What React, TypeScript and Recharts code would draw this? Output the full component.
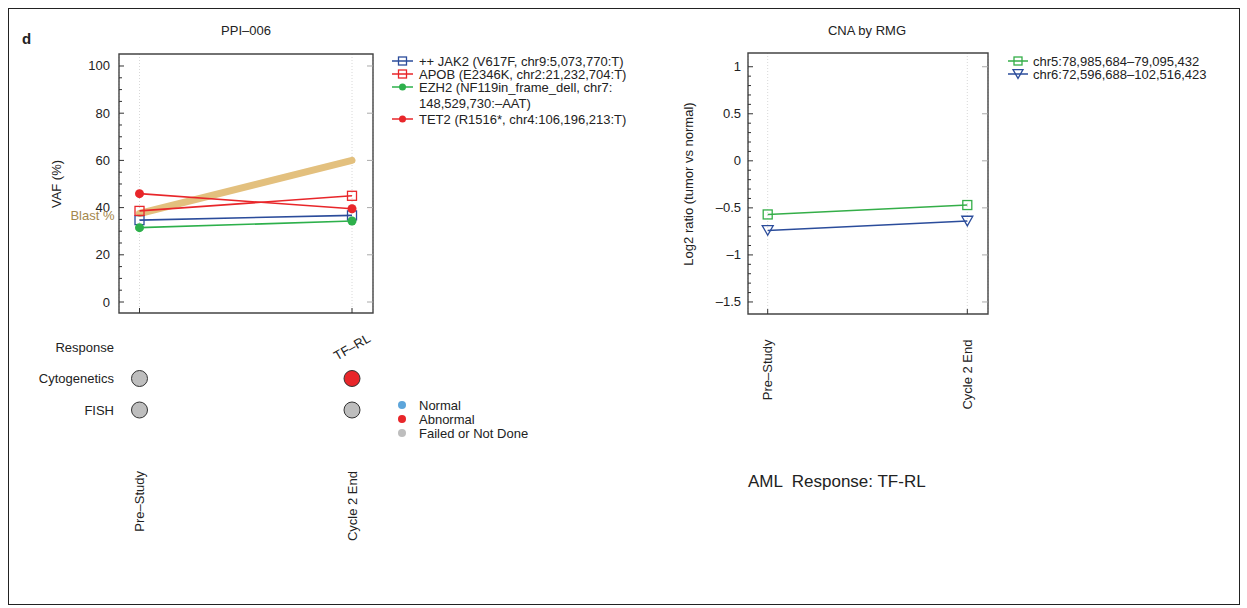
import React from 'react';
import {
  LineChart, Line, XAxis, YAxis, CartesianGrid, ReferenceArea, LabelList,
  ScatterChart, Scatter,
} from 'recharts';

const FONT = '"Liberation Sans", Arial, Helvetica, sans-serif';
const W = 1247;
const H = 608;
const INK = '#222';

// ---------------- data ----------------
const timepoints = ['Pre–Study', 'Cycle 2 End'];
const timeIndex = [0, 1];

const blastPct = [37.5, 60];
const jak2Vaf = [34.7, 36.7];
const apobVaf = [38.6, 45.0];
const ezh2Vaf = [31.5, 34.3];
const tet2Vaf = [45.9, 39.5];

const chr5Log2 = [-0.57, -0.47];
const chr6Log2 = [-0.74, -0.64];

const vafTicks = [0, 5, 10, 15, 20, 25, 30, 35, 40, 45, 50, 55, 60, 65, 70, 75, 80, 85, 90, 95, 100];
const vafMajorTicks = [0, 20, 40, 60, 80, 100];
const log2Ticks = [-1.5, -1.4, -1.3, -1.2, -1.1, -1, -0.9, -0.8, -0.7, -0.6, -0.5, -0.4, -0.3, -0.2, -0.1, 0,
  0.1, 0.2, 0.3, 0.4, 0.5, 0.6, 0.7, 0.8, 0.9, 1];
const log2MajorTicks = [-1.5, -1, -0.5, 0, 0.5, 1];

const annotationRows = ['FISH', 'Cytogenetics', 'Response'];
const annotationRowIndex = [0, 1, 2];
const cytogenetics = ['failed', 'abnormal'];
const fish = ['failed', 'failed'];
const response = ['', 'TF–RL'];

const statusKeys = ['normal', 'abnormal', 'failed'];
const statusNames = ['Normal', 'Abnormal', 'Failed or Not Done'];
const statusColors = ['#5DA5DA', '#E8262A', '#BEBEBE'];

const vafSeries = [
  { key: 'jak2', label: '++ JAK2 (V617F, chr9:5,073,770:T)', color: '#2B4C9B', marker: 'openSquare' },
  { key: 'apob', label: 'APOB (E2346K, chr2:21,232,704:T)', color: '#E8262A', marker: 'openSquare' },
  { key: 'ezh2', label: 'EZH2 (NF119in_frame_dell, chr7:\n148,529,730:–AAT)', color: '#2DB04B', marker: 'dot' },
  { key: 'tet2', label: 'TET2 (R1516*, chr4:106,196,213:T)', color: '#E8262A', marker: 'dot' },
];
const blastSeries = { key: 'blast', label: 'Blast %', color: '#E3C07E', textColor: '#A4874C' };

const cnaSeries = [
  { key: 'chr5', label: 'chr5:78,985,684–79,095,432', color: '#34AE48', marker: 'openSquare' },
  { key: 'chr6', label: 'chr6:72,596,688–102,516,423', color: '#2B4C9B', marker: 'openTriDown' },
];

// ---------------- layout ----------------
const VAF = { left: 119, right: 373, top: 54, bottom: 313 };
const ANN = { top: 315.5, bottom: 441.5 };
const CNA = { left: 748, right: 988, top: 53, bottom: 314 };
const AX = 1; // axis band size (must be > 0 for recharts to draw ticks)

const vafXDomain: [number, number] = [-0.0965, 1.0988];
const vafYDomain: [number, number] = [-4.66, 105.08];
const cnaXDomain: [number, number] = [-0.0987, 1.1037];
const cnaYDomain: [number, number] = [-1.628, 1.146];
const annYDomain: [number, number] = [-1, 3];

const fmtNum = (v: number) => {
  const s = String(Math.round(v * 100) / 100);
  return s.startsWith('-') ? '–' + s.slice(1) : s;
};

function Marker({ type, cx, cy, color, size }: any) {
  if (cx == null || cy == null) return null;
  if (type === 'openSquare') {
    return <rect x={cx - size / 2} y={cy - size / 2} width={size} height={size} fill="none" stroke={color} strokeWidth={1.3} />;
  }
  if (type === 'openTriDown') {
    const h = size * 0.87;
    return (
      <polygon
        points={`${cx - size / 2},${cy - h / 2} ${cx + size / 2},${cy - h / 2} ${cx},${cy + h / 2}`}
        fill="none" stroke={color} strokeWidth={1.3}
      />
    );
  }
  return <circle cx={cx} cy={cy} r={size / 2} fill={color} />;
}

const isMajor = (majors: number[], v: number) => majors.some((m) => Math.abs(m - v) < 1e-9);

const makeYTick = (majors: number[], plotRight: number, gap: number) => (props: any) => {
  const { x, y, payload } = props;
  const v = payload.value;
  const major = isMajor(majors, v);
  return (
    <g>
      <line x1={x} x2={x + (major ? 5 : 3)} y1={y} y2={y} stroke="#333" strokeWidth={1} />
      {major && <line x1={plotRight} x2={plotRight - 6} y1={y} y2={y} stroke="#aaa" strokeWidth={1} />}
      {major && (
        <text x={x - gap} y={y} textAnchor="end" dominantBaseline="central" fontSize={13} fontFamily={FONT} fill={INK}>
          {fmtNum(v)}
        </text>
      )}
    </g>
  );
};

const makeXTick = (labelOffset: number | null) => (props: any) => {
  const { x, y, payload } = props;
  const label = timepoints[payload.value];
  return (
    <g>
      <line x1={x} x2={x} y1={y} y2={y - 5} stroke="#333" strokeWidth={1} />
      {labelOffset != null && (
        <text
          x={x} y={y + labelOffset} dy="0.36em" textAnchor="end"
          transform={`rotate(-90, ${x}, ${y + labelOffset})`}
          fontSize={13} fontFamily={FONT} fill={INK}
        >
          {label}
        </text>
      )}
    </g>
  );
};

const annXTick = (props: any) => {
  const { x, y, payload } = props;
  const ly = y + 29.5;
  return (
    <text x={x} y={ly} dy="0.36em" textAnchor="end" transform={`rotate(-90, ${x}, ${ly})`}
      fontSize={13} fontFamily={FONT} fill={INK}>
      {timepoints[payload.value]}
    </text>
  );
};

const annYTick = (props: any) => {
  const { x, y, payload } = props;
  return (
    <text x={x - 5} y={y} textAnchor="end" dominantBaseline="central" fontSize={13} fontFamily={FONT} fill={INK}>
      {annotationRows[payload.value]}
    </text>
  );
};

const statusColor = (s: string) => statusColors[statusKeys.indexOf(s)];

const abs: React.CSSProperties = { position: 'absolute', left: 0, top: 0 };

const marginFor = (box: { left: number; right: number; top: number; bottom: number }) => ({
  top: box.top,
  left: box.left - AX,
  right: W - box.right,
  bottom: H - box.bottom - AX,
});

export default function App() {
  const vafRows = timeIndex.map((t, i) => ({
    t, blast: blastPct[i], jak2: jak2Vaf[i], apob: apobVaf[i], ezh2: ezh2Vaf[i], tet2: tet2Vaf[i],
  }));
  const cnaRows = timeIndex.map((t, i) => ({ t, chr5: chr5Log2[i], chr6: chr6Log2[i] }));
  const cytoPts = timeIndex.map((t, i) => ({ t, row: 1, status: cytogenetics[i] }));
  const fishPts = timeIndex.map((t, i) => ({ t, row: 0, status: fish[i] }));
  const respPts = timeIndex.map((t, i) => ({ t, row: 2, label: response[i] })).filter((d) => d.label);

  const vafLegendY: number[] = [];
  {
    let y = 61;
    vafSeries.forEach((s) => {
      vafLegendY.push(y);
      y += s.label.includes('\n') ? 32 : 13;
    });
  }

  const circleShape = (p: any) => (
    <circle cx={p.cx} cy={p.cy} r={8} fill={statusColor(p.payload.status)} stroke="#333" strokeWidth={1} />
  );
  const respShape = (p: any) => (
    <text x={p.cx} y={p.cy} textAnchor="middle" dominantBaseline="central"
      transform={`rotate(-30, ${p.cx}, ${p.cy})`} fontSize={13} fontFamily={FONT} fill={INK}>
      {p.payload.label}
    </text>
  );

  return (
    <div style={{ position: 'absolute', left: 0, top: 0, width: W, height: H, fontFamily: FONT, background: '#fff' }}>
      <div style={{ position: 'absolute', left: 8, top: 8, width: 1232, height: 597, border: '1px solid #222', boxSizing: 'border-box' }} />

      {/* VAF chart */}
      <div style={abs}>
        <LineChart width={W} height={H} data={vafRows} margin={marginFor(VAF)}>
          <CartesianGrid horizontal={false} vertical stroke="#d8d8d8" strokeDasharray="1 2" />
          <XAxis dataKey="t" type="number" domain={vafXDomain} allowDataOverflow ticks={timeIndex}
            height={AX} tickSize={0} tickMargin={0} axisLine={false} tickLine={false} interval={0}
            tick={makeXTick(null)} />
          <YAxis type="number" domain={vafYDomain} allowDataOverflow ticks={vafTicks}
            width={AX} tickSize={0} tickMargin={0} axisLine={false} tickLine={false} interval={0}
            tick={makeYTick(vafMajorTicks, VAF.right, 9)} />
          <ReferenceArea x1={vafXDomain[0]} x2={vafXDomain[1]} y1={vafYDomain[0]} y2={vafYDomain[1]}
            fill="none" stroke="#444" strokeWidth={1.4} ifOverflow="visible" />
          <Line dataKey={blastSeries.key} stroke={blastSeries.color} strokeWidth={7} strokeLinecap="round"
            dot={false} isAnimationActive={false}>
            <LabelList dataKey={blastSeries.key} content={(p: any) =>
              p.index === 0 ? (
                <text x={p.x - 25} y={p.y + 2} textAnchor="end" dominantBaseline="central" fontSize={13}
                  fontFamily={FONT} fill={blastSeries.textColor}>{blastSeries.label}</text>
              ) : null} />
          </Line>
          {vafSeries.map((s) => (
            <Line key={s.key} dataKey={s.key} stroke={s.color} strokeWidth={1.6} isAnimationActive={false}
              dot={(p: any) => <Marker key={`${s.key}-${p.index}`} type={s.marker} cx={p.cx} cy={p.cy} color={s.color}
                size={9} />} />
          ))}
        </LineChart>
      </div>

      {/* annotation tracks */}
      <div style={abs}>
        <ScatterChart width={W} height={H}
          margin={marginFor({ left: VAF.left, right: VAF.right, top: ANN.top, bottom: ANN.bottom })}>
          <XAxis dataKey="t" type="number" domain={vafXDomain} allowDataOverflow ticks={timeIndex}
            height={AX} tickSize={0} tickMargin={0} axisLine={false} tickLine={false} interval={0}
            tick={annXTick} />
          <YAxis dataKey="row" type="number" domain={annYDomain} allowDataOverflow ticks={annotationRowIndex}
            width={AX} tickSize={0} tickMargin={0} axisLine={false} tickLine={false} interval={0}
            tick={annYTick} />
          <Scatter data={cytoPts} shape={circleShape} isAnimationActive={false} />
          <Scatter data={fishPts} shape={circleShape} isAnimationActive={false} />
          <Scatter data={respPts} shape={respShape} isAnimationActive={false} />
        </ScatterChart>
      </div>

      {/* CNA chart */}
      <div style={abs}>
        <LineChart width={W} height={H} data={cnaRows} margin={marginFor(CNA)}>
          <CartesianGrid horizontal={false} vertical stroke="#d8d8d8" strokeDasharray="1 2" />
          <XAxis dataKey="t" type="number" domain={cnaXDomain} allowDataOverflow ticks={timeIndex}
            height={AX} tickSize={0} tickMargin={0} axisLine={false} tickLine={false} interval={0}
            tick={makeXTick(25.5)} />
          <YAxis type="number" domain={cnaYDomain} allowDataOverflow ticks={log2Ticks}
            width={AX} tickSize={0} tickMargin={0} axisLine={false} tickLine={false} interval={0}
            tick={makeYTick(log2MajorTicks, CNA.right, 7)} />
          <ReferenceArea x1={cnaXDomain[0]} x2={cnaXDomain[1]} y1={cnaYDomain[0]} y2={cnaYDomain[1]}
            fill="none" stroke="#444" strokeWidth={1.4} ifOverflow="visible" />
          {cnaSeries.map((s) => (
            <Line key={s.key} dataKey={s.key} stroke={s.color} strokeWidth={1.6} isAnimationActive={false}
              dot={(p: any) => <Marker key={`${s.key}-${p.index}`} type={s.marker} cx={p.cx} cy={p.cy} color={s.color}
                size={s.marker === 'openTriDown' ? 11 : 9} />} />
          ))}
        </LineChart>
      </div>

      {/* static texts and legends */}
      <svg width={W} height={H} style={{ ...abs, pointerEvents: 'none' }}>
        <text x={22} y={38} dominantBaseline="central" fontSize={15} fontWeight="bold" fontFamily={FONT} fill={INK}>d</text>
        <text x={246} y={30.5} textAnchor="middle" dominantBaseline="central" fontSize={13} fontFamily={FONT} fill={INK}>PPI–006</text>
        <text x={867} y={30.5} textAnchor="middle" dominantBaseline="central" fontSize={13} fontFamily={FONT} fill={INK}>CNA by RMG</text>
        <text x={56} y={184} textAnchor="middle" dominantBaseline="central" transform="rotate(-90, 56, 184)"
          fontSize={13} fontFamily={FONT} fill={INK}>VAF (%)</text>
        <text x={688} y={184} textAnchor="middle" dominantBaseline="central" transform="rotate(-90, 688, 184)"
          fontSize={13} fontFamily={FONT} fill={INK}>Log2 ratio (tumor vs normal)</text>

        {vafSeries.map((s, i) => {
          const y = vafLegendY[i];
          const lines = s.label.split('\n');
          return (
            <g key={s.key}>
              <line x1={392} x2={413} y1={y} y2={y} stroke={s.color} strokeWidth={1.5} />
              <Marker type={s.marker} cx={402.5} cy={y} color={s.color} size={s.marker === 'dot' ? 7 : 8} />
              <text x={419} y={y} dominantBaseline="central" fontSize={13} fontFamily={FONT} fill={INK}>
                {lines.map((ln, k) => (
                  <tspan key={k} x={419} dy={k === 0 ? 0 : 16}>{ln}</tspan>
                ))}
              </text>
            </g>
          );
        })}

        {statusNames.map((n, i) => (
          <g key={n}>
            <circle cx={402} cy={405 + i * 14} r={4} fill={statusColors[i]} />
            <text x={419} y={405 + i * 14} dominantBaseline="central" fontSize={13} fontFamily={FONT} fill={INK}>{n}</text>
          </g>
        ))}

        {cnaSeries.map((s, i) => {
          const y = 61 + i * 13;
          return (
            <g key={s.key}>
              <line x1={1008} x2={1028} y1={y} y2={y} stroke={s.color} strokeWidth={1.5} />
              <Marker type={s.marker} cx={1018} cy={y} color={s.color} size={s.marker === 'openTriDown' ? 10 : 8} />
              <text x={1033} y={y} dominantBaseline="central" fontSize={13} fontFamily={FONT} fill={INK}>{s.label}</text>
            </g>
          );
        })}
      </svg>

      <div style={{ position: 'absolute', left: 748, top: 472, fontSize: 17, lineHeight: '20px', whiteSpace: 'pre', color: INK, fontFamily: FONT }}>
        {'AML  Response: TF-RL'}
      </div>
    </div>
  );
}
